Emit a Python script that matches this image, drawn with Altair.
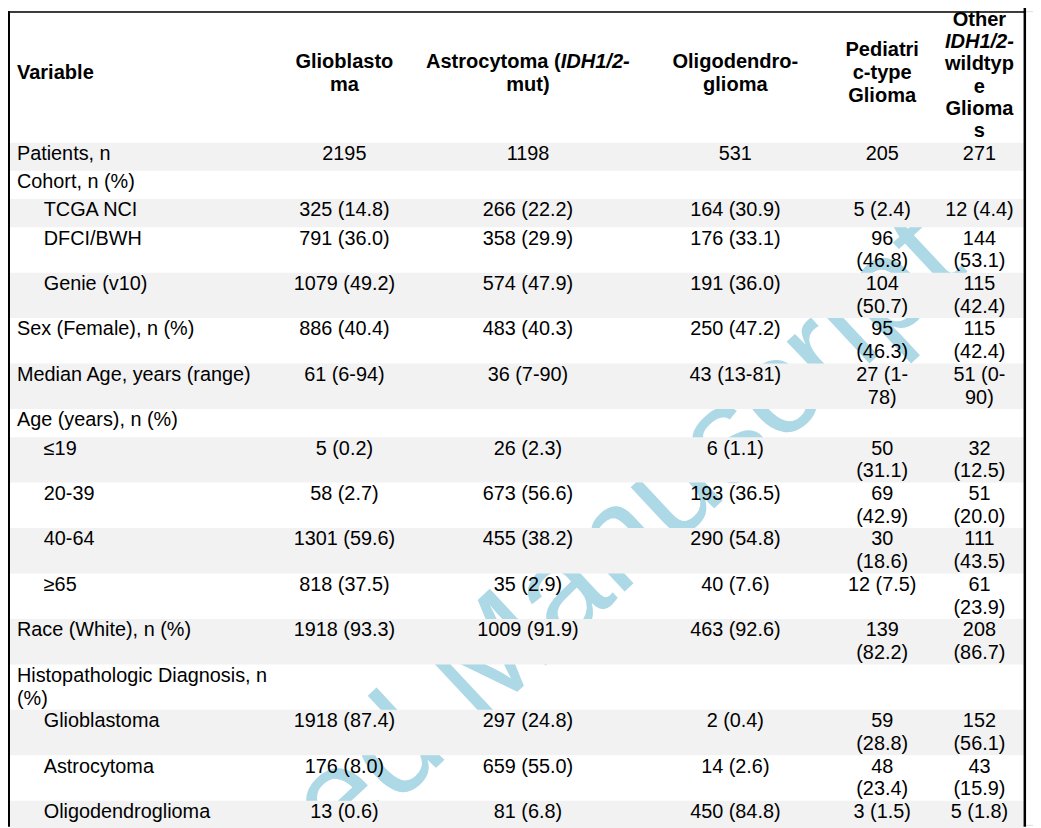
import altair as alt
import pandas as pd

# ---------------- data ----------------
variables = ["Patients, n", "Cohort, n (%)", "TCGA NCI", "DFCI/BWH", "Genie (v10)",
             "Sex (Female), n (%)", "Median Age, years (range)", "Age (years), n (%)",
             "\u00a0\u226419", "20-39", "40-64", "\u226565", "Race (White), n (%)",
             "Histopathologic Diagnosis, n\n(%)", "Glioblastoma", "Astrocytoma",
             "Oligodendroglioma"]
indented = [0, 0, 1, 1, 1, 0, 0, 0, 1, 1, 1, 1, 0, 0, 1, 1, 1]

glioblastoma = ["2195", "", "325 (14.8)", "791 (36.0)", "1079 (49.2)", "886 (40.4)",
                "61 (6-94)", "", "5 (0.2)", "58 (2.7)", "1301 (59.6)", "818 (37.5)",
                "1918 (93.3)", "", "1918 (87.4)", "176 (8.0)", "13 (0.6)"]
astrocytoma = ["1198", "", "266 (22.2)", "358 (29.9)", "574 (47.9)", "483 (40.3)",
               "36 (7-90)", "", "26 (2.3)", "673 (56.6)", "455 (38.2)", "35 (2.9)",
               "1009 (91.9)", "", "297 (24.8)", "659 (55.0)", "81 (6.8)"]
oligodendroglioma = ["531", "", "164 (30.9)", "176 (33.1)", "191 (36.0)", "250 (47.2)",
                     "43 (13-81)", "", "6 (1.1)", "193 (36.5)", "290 (54.8)", "40 (7.6)",
                     "463 (92.6)", "", "2 (0.4)", "14 (2.6)", "450 (84.8)"]
pediatric = ["205", "", "5 (2.4)", "96\n(46.8)", "104\n(50.7)", "95\n(46.3)",
             "27 (1-\n78)", "", "50\n(31.1)", "69\n(42.9)", "30\n(18.6)", "12 (7.5)",
             "139\n(82.2)", "", "59\n(28.8)", "48\n(23.4)", "3 (1.5)"]
other_wt = ["271", "", "12 (4.4)", "144\n(53.1)", "115\n(42.4)", "115\n(42.4)",
            "51 (0-\n90)", "", "32\n(12.5)", "51\n(20.0)", "111\n(43.5)", "61\n(23.9)",
            "208\n(86.7)", "", "152\n(56.1)", "43\n(15.9)", "5 (1.8)"]
value_columns = [glioblastoma, astrocytoma, oligodendroglioma, pediatric, other_wt]

# header: lines of (text, italic) segments
header_variable = "Variable"
header_columns = [
    [[("Glioblasto", False)], [("ma", False)]],
    [[("Astrocytoma (", False), ("IDH1/2-", True)], [("mut)", False)]],
    [[("Oligodendro-", False)], [("glioma", False)]],
    [[("Pediatri", False)], [("c-type", False)], [("Glioma", False)]],
    [[("Other", False)], [("IDH1/2-", True)], [("wildtyp", False)], [("e", False)],
     [("Glioma", False)], [("s", False)]],
]
watermark_text = "Accepted Manuscript"

# ---------------- layout ----------------
FONT = "Liberation Sans"
FS = 20
FS_HDR = 20.2
LH = 23.0
X_LABEL, X_INDENT = 17, 44
COL_X = [347, 532, 741, 889, 987]
HDR_LH = [23, 23, 23, 23, 22.5]
HDR_DY = [0, 0, 0, 0, 2.5]
SPLIT_OFFSET = 33          # junction of mixed-style header line from column centre
HEADER_MID = 70.5
TEXT_DY = 11.5
ROW_TOP0 = 140.5
ROW_H = {1: 28.4, 2: 45.8}
TABLE_L, TABLE_R = 8, 1034
GREY = "#f2f2f2"

rows_bg, labels_rec, values_rec = [], [], []
top = ROW_TOP0
for i, lab in enumerate(variables):
    cells = [col[i] for col in value_columns]
    n = max([len(lab.split("\n"))] + [len(c.split("\n")) for c in cells])
    h = ROW_H[n]
    if i % 2 == 0:
        rows_bg.append({"x": TABLE_L + 2, "x2": TABLE_R - 2.5, "y": top, "y2": top + h})
    for k, line in enumerate(lab.split("\n")):
        labels_rec.append({"x": X_INDENT if indented[i] else X_LABEL,
                           "y": top + TEXT_DY + k * LH, "t": line})
    for c, cell in enumerate(cells):
        if cell == "":
            continue
        for k, line in enumerate(cell.split("\n")):
            values_rec.append({"x": COL_X[c], "y": top + TEXT_DY + k * LH, "t": line})
    top += h

hdr_left = [{"x": X_LABEL, "y": HEADER_MID, "t": header_variable}]
hdr_center, hdr_center_it, hdr_right, hdr_left_it = [], [], [], []
for c, lines in enumerate(header_columns):
    n = len(lines)
    for k, segs in enumerate(lines):
        y = HEADER_MID + HDR_DY[c] + (k - (n - 1) / 2) * HDR_LH[c]
        if len(segs) == 1:
            t, it = segs[0]
            (hdr_center_it if it else hdr_center).append({"x": COL_X[c], "y": y, "t": t})
        else:
            j = COL_X[c] + SPLIT_OFFSET
            hdr_right.append({"x": j, "y": y, "t": segs[0][0]})
            hdr_left_it.append({"x": j, "y": y, "t": segs[1][0]})

borders = [
    {"x": TABLE_L, "x2": TABLE_R, "y": 8, "y2": 9.5},
    {"x": TABLE_L, "x2": TABLE_L + 2, "y": 8, "y2": 830},
    {"x": TABLE_R - 2.5, "x2": TABLE_R, "y": 3, "y2": 830},
]
wm = [{"x": 948, "y": 240, "t": watermark_text}]

xs = alt.Scale(domain=[8, 1041], nice=False, zero=False)
ys = alt.Scale(domain=[8, 828], nice=False, zero=False, reverse=True)


def X(f="x"):
    return alt.X(f"{f}:Q", scale=xs, axis=None)


def Y(f="y"):
    return alt.Y(f"{f}:Q", scale=ys, axis=None)


def txt(recs, align, bold=False, italic=False):
    kw = dict(align=align, baseline="middle", font=FONT,
              fontSize=FS_HDR if bold else FS, color="black")
    if bold:
        kw["fontWeight"] = "bold"
    if italic:
        kw["fontStyle"] = "italic"
    return alt.Chart(pd.DataFrame(recs)).mark_text(**kw).encode(x=X(), y=Y(), text="t:N")


watermark = alt.Chart(pd.DataFrame(wm)).mark_text(
    align="right", baseline="middle", font=FONT, fontSize=138,
    angle=317, color="#add8e6"
).encode(x=X(), y=Y(), text="t:N")

bg = alt.Chart(pd.DataFrame(rows_bg)).mark_rect(color=GREY).encode(
    x=X(), x2="x2:Q", y=Y(), y2="y2:Q")
brd = alt.Chart(pd.DataFrame(borders)).mark_rect(color="black").encode(
    x=X(), x2="x2:Q", y=Y(), y2="y2:Q")

chart = alt.layer(
    watermark, bg, brd,
    txt(labels_rec, "left"),
    txt(values_rec, "center"),
    txt(hdr_left, "left", bold=True),
    txt(hdr_center, "center", bold=True),
    txt(hdr_center_it, "center", bold=True, italic=True),
    txt(hdr_right, "right", bold=True),
    txt(hdr_left_it, "left", bold=True, italic=True),
).properties(
    width=1033, height=820, padding=0, autosize=alt.AutoSizeParams(type="none")
).configure_view(stroke=None).configure(background="white")

chart.save("out.html", embed_options={"renderer": "svg", "actions": False})
